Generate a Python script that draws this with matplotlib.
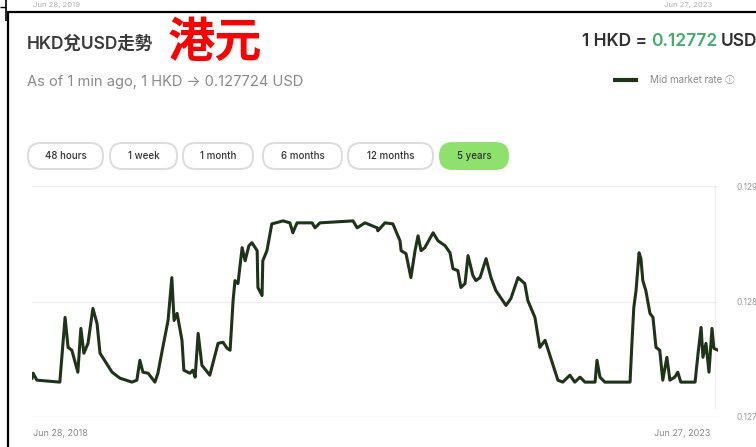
import matplotlib
matplotlib.use("Agg")
import matplotlib.pyplot as plt
from matplotlib.patches import FancyBboxPatch
import pandas as pd

# ---------------- data ----------------
dates = [
    "2018-06-28", "2018-07-01", "2018-07-11", "2018-09-10", "2018-09-24", "2018-10-02",
    "2018-10-12", "2018-10-28", "2018-11-05", "2018-11-13", "2018-11-24", "2018-12-07",
    "2018-12-18", "2018-12-26", "2019-01-27", "2019-02-17", "2019-03-21", "2019-04-03",
    "2019-04-11", "2019-04-19", "2019-05-03", "2019-05-21", "2019-05-29", "2019-06-11",
    "2019-06-25", "2019-07-05", "2019-07-11", "2019-07-19", "2019-08-01", "2019-08-06",
    "2019-08-22", "2019-08-30", "2019-09-05", "2019-09-13", "2019-09-23", "2019-10-14",
    "2019-11-05", "2019-11-18", "2019-11-29", "2019-12-07", "2019-12-15", "2019-12-20",
    "2019-12-28", "2020-01-08", "2020-01-16", "2020-01-26", "2020-02-03", "2020-02-17",
    "2020-02-19", "2020-03-01", "2020-03-03", "2020-03-14", "2020-03-27", "2020-04-26",
    "2020-05-14", "2020-05-22", "2020-06-02", "2020-07-12", "2020-07-20", "2020-08-02",
    "2020-10-29", "2020-11-09", "2020-11-30", "2021-01-01", "2021-01-03", "2021-01-22",
    "2021-02-12", "2021-03-03", "2021-03-06", "2021-03-19", "2021-04-01", "2021-04-12",
    "2021-04-20", "2021-04-28", "2021-05-08", "2021-05-30", "2021-06-12", "2021-07-01",
    "2021-07-14", "2021-07-22", "2021-08-04", "2021-08-12", "2021-08-23", "2021-08-31",
    "2021-09-13", "2021-09-21", "2021-10-02", "2021-10-18", "2021-10-31", "2021-11-13",
    "2021-12-10", "2021-12-23", "2022-01-11", "2022-01-29", "2022-02-06", "2022-02-25",
    "2022-03-10", "2022-03-24", "2022-04-27", "2022-05-10", "2022-05-29", "2022-06-11",
    "2022-06-25", "2022-07-08", "2022-08-04", "2022-08-09", "2022-08-17", "2022-08-30",
    "2022-11-05", "2022-11-10", "2022-11-15", "2022-11-21", "2022-11-29", "2022-12-04",
    "2022-12-09", "2022-12-17", "2022-12-28", "2023-01-05", "2023-01-13", "2023-01-23",
    "2023-01-31", "2023-02-11", "2023-02-19", "2023-03-04", "2023-03-12", "2023-03-20",
    "2023-04-27", "2023-05-05", "2023-05-13", "2023-05-18", "2023-05-26", "2023-06-03",
    "2023-06-11", "2023-06-16", "2023-06-27",
]
rates = [
    0.127336, 0.127379, 0.127319, 0.127302, 0.127862, 0.127603,
    0.127578, 0.127388, 0.127767, 0.127552, 0.127638, 0.127940,
    0.127810, 0.127552, 0.127388, 0.127336, 0.127302, 0.127319,
    0.127491, 0.127388, 0.127379, 0.127302, 0.127379, 0.127603,
    0.127836, 0.128207, 0.127836, 0.127897, 0.127664, 0.127405,
    0.127379, 0.127405, 0.127345, 0.127724, 0.127448, 0.127362,
    0.127638, 0.127647, 0.127595, 0.127578, 0.128009, 0.128181,
    0.128155, 0.128466, 0.128353, 0.128483, 0.128509, 0.128440,
    0.128121, 0.128052, 0.128353, 0.128440, 0.128672, 0.128698,
    0.128681, 0.128595, 0.128681, 0.128681, 0.128638, 0.128681,
    0.128698, 0.128638, 0.128681, 0.128638, 0.128612, 0.128681,
    0.128672, 0.128526, 0.128440, 0.128414, 0.128207, 0.128440,
    0.128569, 0.128440, 0.128466, 0.128595, 0.128526, 0.128483,
    0.128422, 0.128284, 0.128267, 0.128121, 0.128155, 0.128397,
    0.128224, 0.128181, 0.128207, 0.128371, 0.128207, 0.128095,
    0.127966, 0.128026, 0.128207, 0.128155, 0.128009, 0.127862,
    0.127603, 0.127664, 0.127319, 0.127302, 0.127362, 0.127302,
    0.127345, 0.127302, 0.127302, 0.127491, 0.127345, 0.127302,
    0.127302, 0.127638, 0.127948, 0.128095, 0.128422, 0.128371,
    0.128181, 0.128095, 0.127897, 0.127862, 0.127603, 0.127578,
    0.127319, 0.127517, 0.127319, 0.127345, 0.127388, 0.127302,
    0.127302, 0.127552, 0.127776, 0.127517, 0.127638, 0.127388,
    0.127767, 0.127595, 0.127578,
]
y_ticks = [0.127, 0.128, 0.129]
y_tick_labels = ["0.127", "0.128", "0.129"]
x_labels = ["Jun 28, 2018", "Jun 27, 2023"]
buttons = ["48 hours", "1 week", "1 month", "6 months", "12 months", "5 years"]
active_button = "5 years"

# ---------------- style ----------------
LATIN = ["Inter", "Noto Sans CJK TC", "DejaVu Sans"]
CJK = ["Noto Sans CJK TC", "DejaVu Sans"]
SYM = ["Inter", "Noto Sans CJK JP", "DejaVu Sans"]
plt.rcParams["font.family"] = LATIN

W, H = 756, 447
fig = plt.figure(figsize=(W / 100, H / 100), dpi=100)
fig.patch.set_facecolor("white")

# overlay axes in pixel coordinates for decorations
ov = fig.add_axes([0, 0, 1, 1])
ov.set_xlim(0, W)
ov.set_ylim(H, 0)
ov.axis("off")

# frame lines (screenshot border)
ov.plot([7, W], [12, 12], color="black", lw=1.6, solid_capstyle="butt")
ov.plot([8, 8], [12, H], color="black", lw=1.6, solid_capstyle="butt")
ov.plot([6, 6], [0, 21], color="black", lw=1.2, solid_capstyle="butt")
ov.plot([0, 6], [7, 7], color="black", lw=1.0, solid_capstyle="butt")

# labels from the previous screenshot at the very top
ov.text(33, 5, "Jun 28, 2019", fontsize=5.5, color="#b0b0b0", ha="left", va="center")
ov.text(712, 5, "Jun 27, 2023", fontsize=5.5, color="#b0b0b0", ha="right", va="center")

# headings
ov.text(27, 44, "HKD兌USD走勢", fontsize=12.5, color="#3a3a3a", ha="left", va="center",
        fontweight="semibold", family=LATIN)
ov.text(168, 43, "港元", fontsize=34, color="#ff0000", ha="left", va="center",
        fontweight="bold", family=CJK)
ov.text(27, 82, "As of 1 min ago, 1 HKD \u2192 0.127724 USD", fontsize=10.6,
        color="#8a8a8a", ha="left", va="center", family=SYM)

# right headline, built from three pieces
t1 = ov.text(582, 41, "1 HKD = ", fontsize=12.5, color="#2f2f2f", ha="left", va="center",
             fontweight="semibold")
fig.canvas.draw()
r = fig.canvas.get_renderer()
bb = t1.get_window_extent(r)
t2 = fig.text(bb.x1 / W, 1 - 41 / H, "0.12772", fontsize=12.5, color="#3fae6a",
              ha="left", va="center", fontweight="semibold")
bb2 = t2.get_window_extent(r)
fig.text(bb2.x1 / W + 0.004, 1 - 41 / H, "USD", fontsize=12.5, color="#2f2f2f",
         ha="left", va="center", fontweight="semibold")

# legend
ov.plot([613, 638], [80, 80], color="#1f3318", lw=3, solid_capstyle="butt")
ov.text(650, 80, "Mid market rate \u24d8", fontsize=7, color="#8a8a8a",
        ha="left", va="center", family=SYM)

# buttons
btn_x = [(28, 103), (110, 177), (183, 253), (263, 342), (348, 433), (440, 508)]
for label, (x0, x1) in zip(buttons, btn_x):
    y0, y1 = 143, 169
    active = label == active_button
    p = FancyBboxPatch((x0, y0), x1 - x0, y1 - y0,
                       boxstyle="round,pad=0,rounding_size=12.5",
                       facecolor="#8ee26b" if active else "white",
                       edgecolor="#8ee26b" if active else "#dcdcdc", lw=1.4)
    ov.add_patch(p)
    ov.text((x0 + x1) / 2, (y0 + y1) / 2, label, fontsize=7, color="#333333",
            ha="center", va="center", fontweight="medium")

# ---------------- chart ----------------
x = pd.to_datetime(dates)
ax = fig.add_axes([32 / W, 1 - 417 / H, 686 / W, (417 - 186) / H])
ax.set_facecolor("none")
ax.plot(x, rates, color="#1f3318", lw=2.2, solid_joinstyle="round")
ax.set_xlim(x[0], x[-1])
ax.set_ylim(0.127, 0.129)
ax.set_yticks(y_ticks)
ax.yaxis.tick_right()
ax.set_yticklabels(y_tick_labels, fontsize=6, color="#9a9a9a")
ax.tick_params(axis="y", length=0, pad=13)
ax.set_xticks([])
ax.grid(axis="y", color="#eeeeee", lw=1)
for s in ["top", "left", "bottom", "right"]:
    ax.spines[s].set_visible(False)
# faint right boundary line
ov.plot([715, 715], [186, 408], color="#f0f0f0", lw=1)

ov.text(33, 434, x_labels[0], fontsize=6.5, color="#8a8a8a", ha="left", va="center")
ov.text(710, 434, x_labels[1], fontsize=6.5, color="#8a8a8a", ha="right", va="center")

fig.savefig("out.png", dpi=100, facecolor="white")
